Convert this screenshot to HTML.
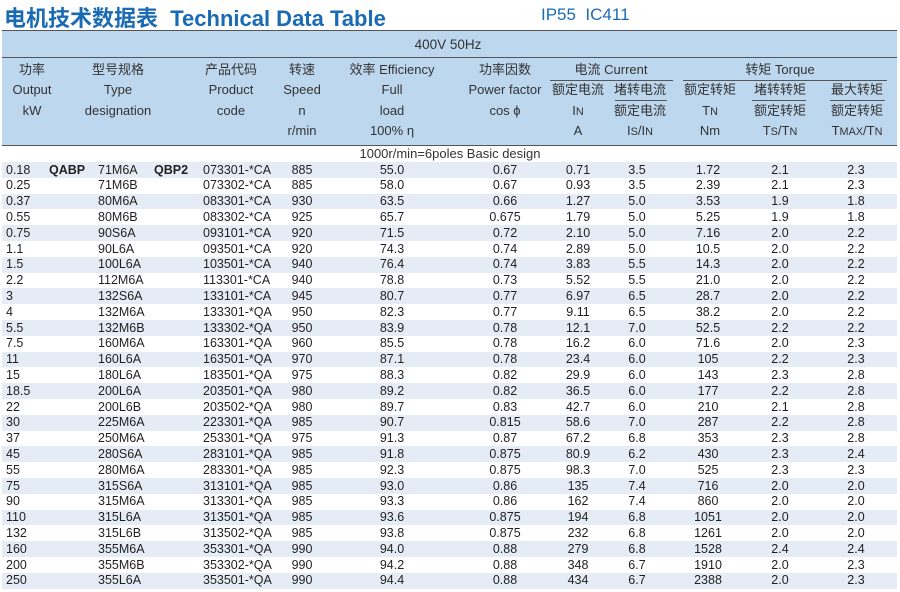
<!DOCTYPE html><html><head><meta charset="utf-8"><style>
body{margin:0;width:900px;height:592px;background:#fff;position:relative;overflow:hidden;font-family:"Liberation Sans","Noto Sans CJK SC",sans-serif;color:#231f20}
.a{position:absolute;white-space:nowrap}
.t{font-size:12.5px;line-height:15px}
.c{transform:translateX(-50%)}
.h{font-size:13px;color:#333;line-height:15px}
.ln{position:absolute;height:1px;background:#555}
</style></head><body>
<div class="a" style="left:4px;top:1px;font-size:22px;font-weight:bold;color:#1a6bb3">电机技术数据表&nbsp; Technical Data Table</div>
<div class="a" style="left:541px;top:5px;font-size:17px;color:#1a6bb3">IP55&nbsp; IC411</div>
<div class="a" style="left:2px;top:30px;width:895px;height:114px;background:#bdd7ef;border-top:1px solid #555;border-bottom:1px solid #555"></div>
<div class="ln" style="left:2px;top:57px;width:895px"></div>
<div class="a h c" style="left:448px;top:37px;font-size:13.5px">400V 50Hz</div>
<div id="hdr"></div>
<div class="ln" style="left:550px;top:80px;width:123px"></div>
<div class="ln" style="left:683px;top:80px;width:204px"></div>
<div class="ln" style="left:615px;top:100px;width:52px"></div>
<div class="ln" style="left:752px;top:100px;width:54px"></div>
<div class="ln" style="left:830px;top:100px;width:55px"></div>
<div class="a h c" style="left:450px;top:146px">1000r/min=6poles Basic design</div>
<div id="rows"></div>
<script>
var H=[[32,["功率","Output","kW"]],[118,["型号规格","Type","designation"]],[231,["产品代码","Product","code"]],[302,["转速","Speed","n","r/min"]],[392,["效率 Efficiency","Full","load","100% η"]],[505,["功率因数","Power factor","cos ϕ"]],[578,["","额定电流","I<small>N</small>","A"]],[640,["","堵转电流","额定电流","I<small>S</small>/I<small>N</small>"]],[710,["","额定转矩","T<small>N</small>","Nm"]],[780,["","堵转转矩","额定转矩","T<small>S</small>/T<small>N</small>"]],[857,["","最大转矩","额定转矩","T<small>MAX</small>/T<small>N</small>"]]];
var s="";H.forEach(function(c){c[1].forEach(function(t,i){if(t)s+='<div class="a h c" style="left:'+c[0]+'px;top:'+(62+i*20.3)+'px">'+t+'</div>'})});
s+='<div class="a h c" style="left:611px;top:62px">电流 Current</div><div class="a h c" style="left:780px;top:62px">转矩 Torque</div>';
document.getElementById("hdr").innerHTML=s;
var D=`0.18|71M6A|073301-*CA|885|55.0|0.67|0.71|3.5|1.72|2.1|2.3
0.25|71M6B|073302-*CA|885|58.0|0.67|0.93|3.5|2.39|2.1|2.3
0.37|80M6A|083301-*CA|930|63.5|0.66|1.27|5.0|3.53|1.9|1.8
0.55|80M6B|083302-*CA|925|65.7|0.675|1.79|5.0|5.25|1.9|1.8
0.75|90S6A|093101-*CA|920|71.5|0.72|2.10|5.0|7.16|2.0|2.2
1.1|90L6A|093501-*CA|920|74.3|0.74|2.89|5.0|10.5|2.0|2.2
1.5|100L6A|103501-*CA|940|76.4|0.74|3.83|5.5|14.3|2.0|2.2
2.2|112M6A|113301-*CA|940|78.8|0.73|5.52|5.5|21.0|2.0|2.2
3|132S6A|133101-*CA|945|80.7|0.77|6.97|6.5|28.7|2.0|2.2
4|132M6A|133301-*QA|950|82.3|0.77|9.11|6.5|38.2|2.0|2.2
5.5|132M6B|133302-*QA|950|83.9|0.78|12.1|7.0|52.5|2.2|2.2
7.5|160M6A|163301-*QA|960|85.5|0.78|16.2|6.0|71.6|2.0|2.3
11|160L6A|163501-*QA|970|87.1|0.78|23.4|6.0|105|2.2|2.3
15|180L6A|183501-*QA|975|88.3|0.82|29.9|6.0|143|2.3|2.8
18.5|200L6A|203501-*QA|980|89.2|0.82|36.5|6.0|177|2.2|2.8
22|200L6B|203502-*QA|980|89.7|0.83|42.7|6.0|210|2.1|2.8
30|225M6A|223301-*QA|985|90.7|0.815|58.6|7.0|287|2.2|2.8
37|250M6A|253301-*QA|975|91.3|0.87|67.2|6.8|353|2.3|2.8
45|280S6A|283101-*QA|985|91.8|0.875|80.9|6.2|430|2.3|2.4
55|280M6A|283301-*QA|985|92.3|0.875|98.3|7.0|525|2.3|2.3
75|315S6A|313101-*QA|985|93.0|0.86|135|7.4|716|2.0|2.0
90|315M6A|313301-*QA|985|93.3|0.86|162|7.4|860|2.0|2.0
110|315L6A|313501-*QA|985|93.6|0.875|194|6.8|1051|2.0|2.0
132|315L6B|313502-*QA|985|93.8|0.875|232|6.8|1261|2.0|2.0
160|355M6A|353301-*QA|990|94.0|0.88|279|6.8|1528|2.4|2.4
200|355M6B|353302-*QA|990|94.2|0.88|348|6.7|1910|2.0|2.3
250|355L6A|353501-*QA|990|94.4|0.88|434|6.7|2388|2.0|2.3`.split("\n");
var C=[302,392,505,578,637,708,780,856];var r="";
D.forEach(function(l,i){var f=l.split("|"),y=162+i*15.8;
if(i%2==0)r+='<div class="a" style="left:2px;top:'+y+'px;width:895px;height:15.8px;background:#e5ecf6"></div>';
var ty=y+0.5;
r+='<div class="a t" style="left:6px;top:'+ty+'px">'+f[0]+'</div><div class="a t" style="left:98px;top:'+ty+'px">'+f[1]+'</div><div class="a t" style="left:203px;top:'+ty+'px">'+f[2]+'</div>';
for(var k=0;k<8;k++)r+='<div class="a t c" style="left:'+C[k]+'px;top:'+ty+'px">'+f[k+3]+'</div>';
if(i==0)r+='<div class="a t" style="left:49px;top:'+ty+'px;font-weight:bold">QABP</div><div class="a t" style="left:154px;top:'+ty+'px;font-weight:bold">QBP2</div>';});
document.getElementById("rows").innerHTML=r;
</script>
</body></html>
